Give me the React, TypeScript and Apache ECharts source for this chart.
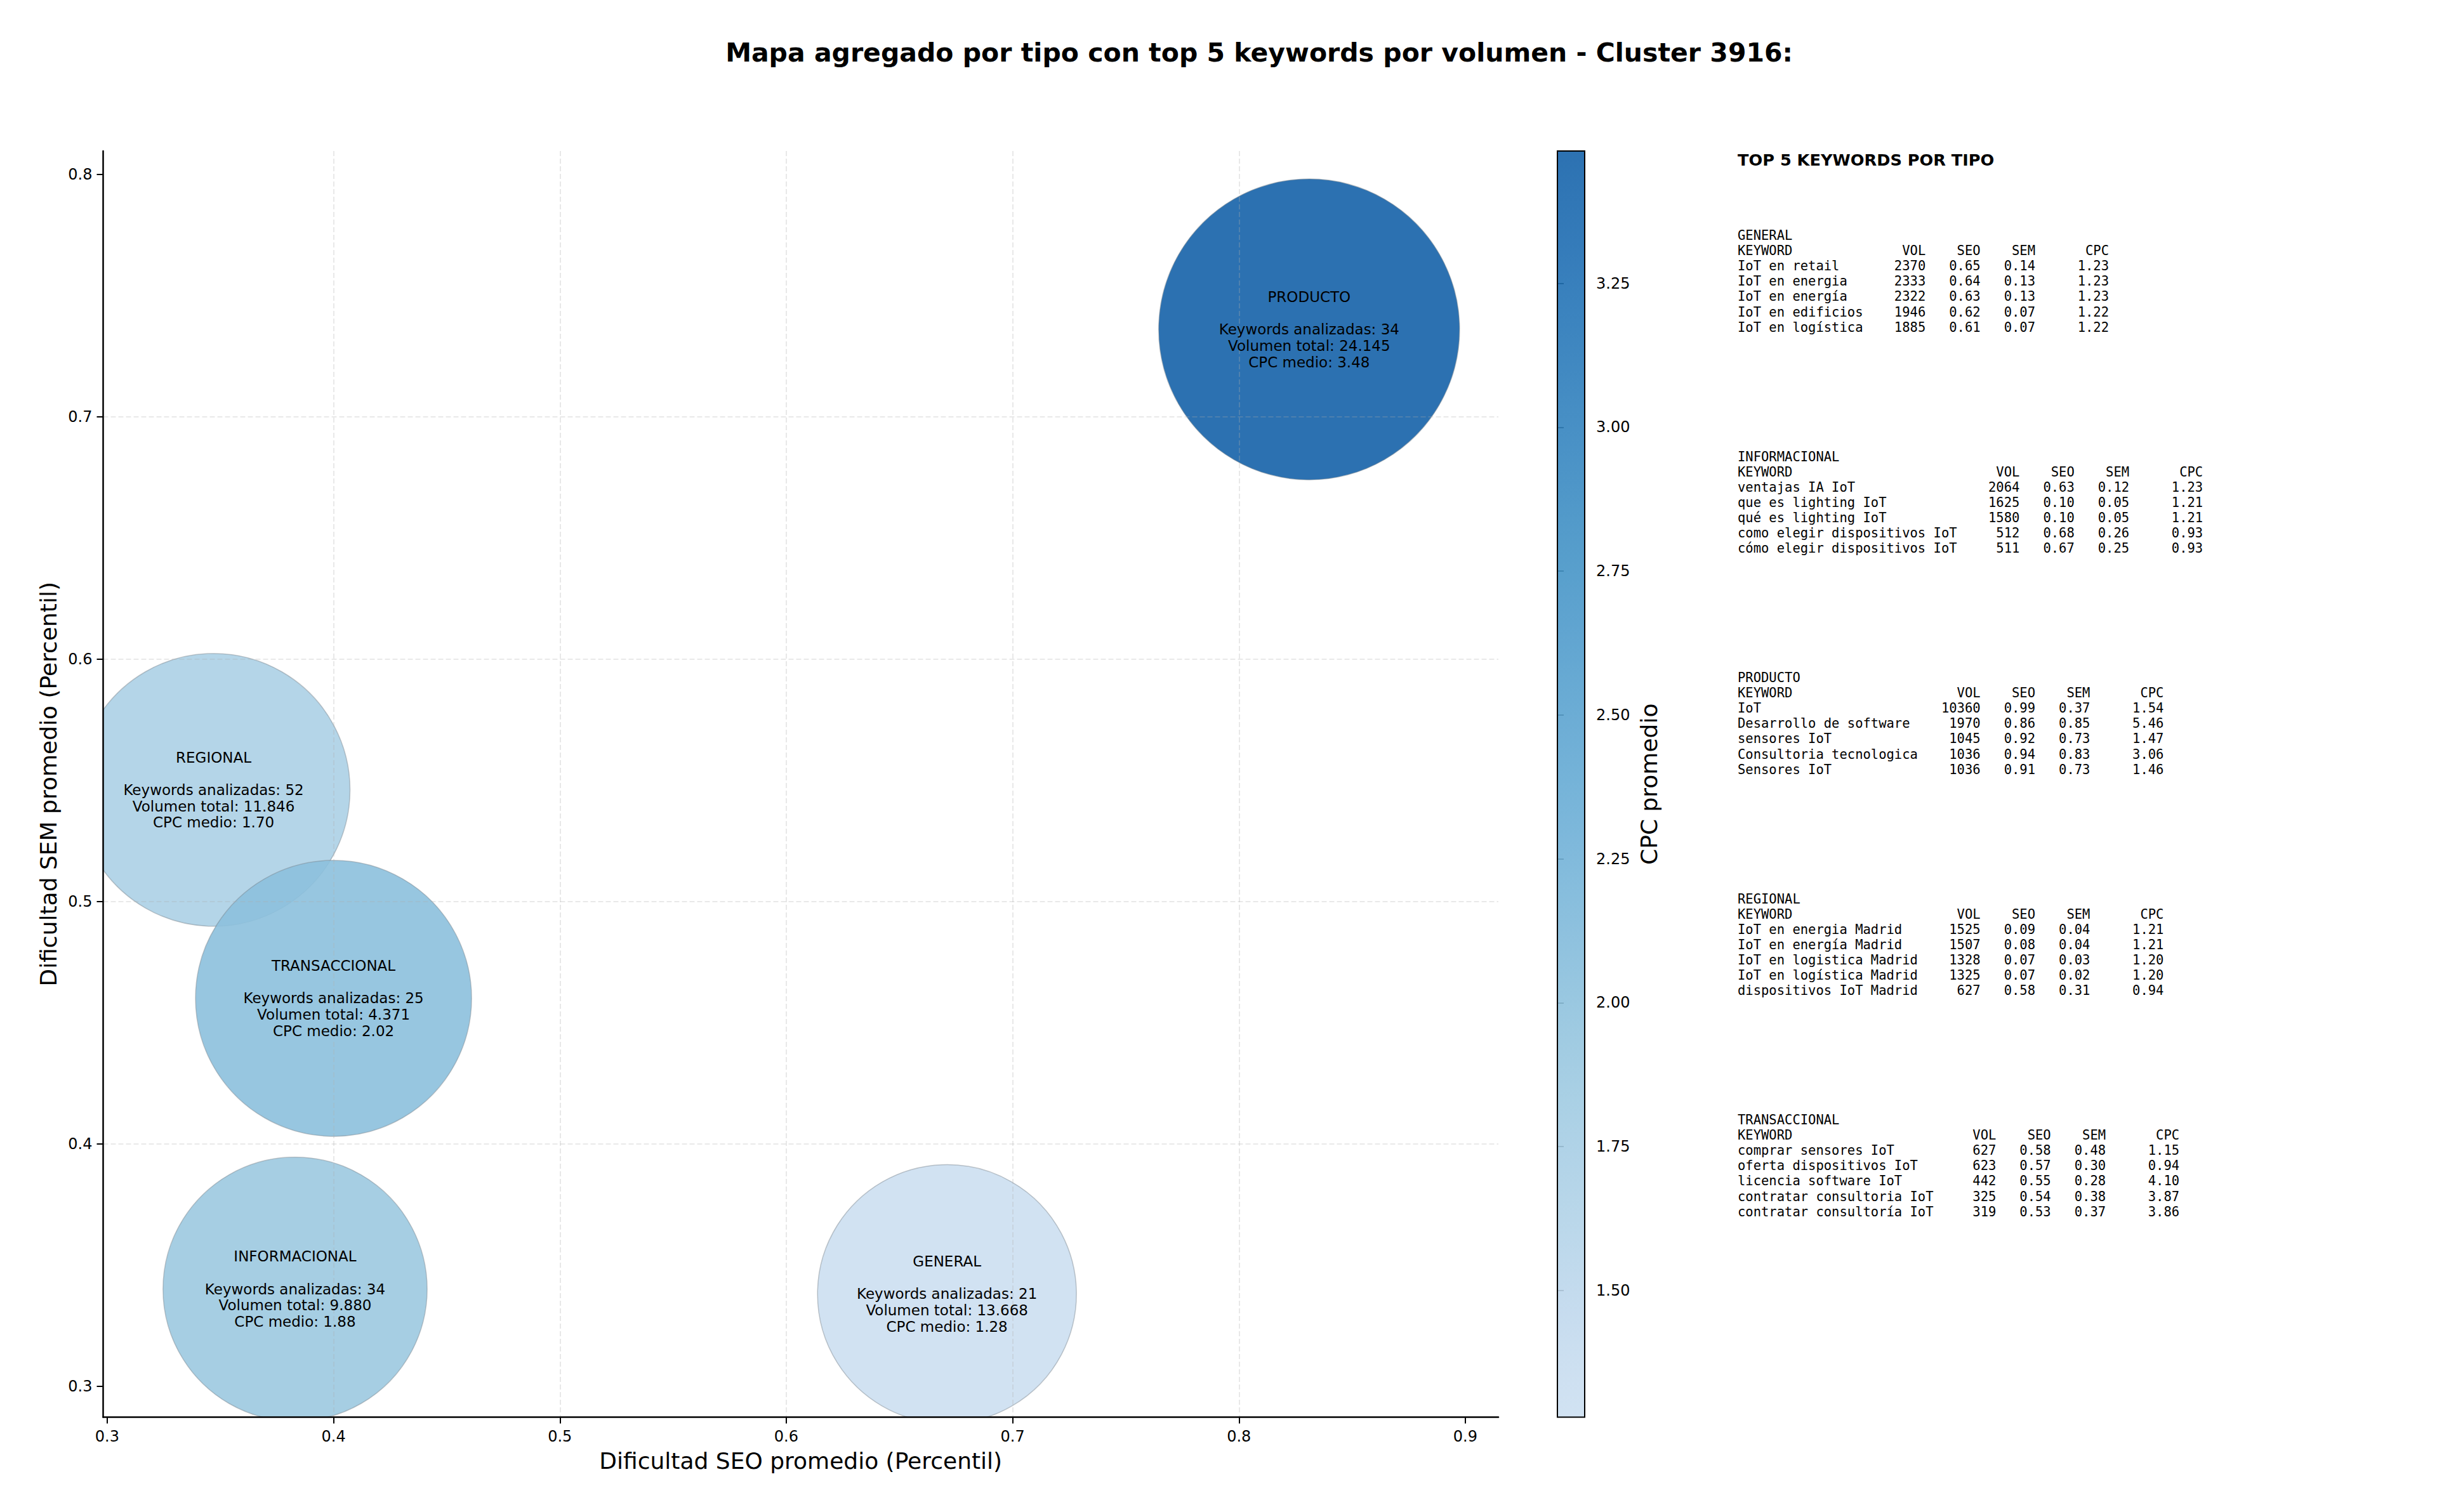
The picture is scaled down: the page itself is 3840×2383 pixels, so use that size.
import React, { useEffect, useRef } from 'react';
import * as echarts from 'echarts';

// ---------- Aggregated data per type ----------
const TYPES = ['GENERAL', 'INFORMACIONAL', 'PRODUCTO', 'REGIONAL', 'TRANSACCIONAL'];
const SEO_AVG = [0.671, 0.383, 0.831, 0.347, 0.4];
const SEM_AVG = [0.338, 0.34, 0.736, 0.546, 0.46];
const KEYWORD_COUNTS = [21, 34, 34, 52, 25];
const TOTAL_VOLUMES = [13668, 9880, 24145, 11846, 4371];
const AVG_CPC = [1.28, 1.88, 3.48, 1.7, 2.02];
const BUBBLE_AREAS = [41600, 43300, 56200, 46200, 47300];

// ---------- Axis ticks ----------
const X_TICKS = [0.3, 0.4, 0.5, 0.6, 0.7, 0.8, 0.9];
const Y_TICKS = [0.3, 0.4, 0.5, 0.6, 0.7, 0.8];
const CPC_TICKS = [1.5, 1.75, 2.0, 2.25, 2.5, 2.75, 3.0, 3.25];

// ---------- Top 5 keywords per type ----------
const GENERAL_KW = ['IoT en retail', 'IoT en energia', 'IoT en energía', 'IoT en edificios', 'IoT en logística'];
const GENERAL_VOL = [2370, 2333, 2322, 1946, 1885];
const GENERAL_SEO = [0.65, 0.64, 0.63, 0.62, 0.61];
const GENERAL_SEM = [0.14, 0.13, 0.13, 0.07, 0.07];
const GENERAL_CPC = [1.23, 1.23, 1.23, 1.22, 1.22];

const INFO_KW = ['ventajas IA IoT', 'que es lighting IoT', 'qué es lighting IoT', 'como elegir dispositivos IoT', 'cómo elegir dispositivos IoT'];
const INFO_VOL = [2064, 1625, 1580, 512, 511];
const INFO_SEO = [0.63, 0.1, 0.1, 0.68, 0.67];
const INFO_SEM = [0.12, 0.05, 0.05, 0.26, 0.25];
const INFO_CPC = [1.23, 1.21, 1.21, 0.93, 0.93];

const PROD_KW = ['IoT', 'Desarrollo de software', 'sensores IoT', 'Consultoria tecnologica', 'Sensores IoT'];
const PROD_VOL = [10360, 1970, 1045, 1036, 1036];
const PROD_SEO = [0.99, 0.86, 0.92, 0.94, 0.91];
const PROD_SEM = [0.37, 0.85, 0.73, 0.83, 0.73];
const PROD_CPC = [1.54, 5.46, 1.47, 3.06, 1.46];

const REG_KW = ['IoT en energia Madrid', 'IoT en energía Madrid', 'IoT en logistica Madrid', 'IoT en logística Madrid', 'dispositivos IoT Madrid'];
const REG_VOL = [1525, 1507, 1328, 1325, 627];
const REG_SEO = [0.09, 0.08, 0.07, 0.07, 0.58];
const REG_SEM = [0.04, 0.04, 0.03, 0.02, 0.31];
const REG_CPC = [1.21, 1.21, 1.2, 1.2, 0.94];

const TRANS_KW = ['comprar sensores IoT', 'oferta dispositivos IoT', 'licencia software IoT', 'contratar consultoria IoT', 'contratar consultoría IoT'];
const TRANS_VOL = [627, 623, 442, 325, 319];
const TRANS_SEO = [0.58, 0.57, 0.55, 0.54, 0.53];
const TRANS_SEM = [0.48, 0.3, 0.28, 0.38, 0.37];
const TRANS_CPC = [1.15, 0.94, 4.1, 3.87, 3.86];

const TABLES = [
  { name: 'GENERAL', kw: GENERAL_KW, vol: GENERAL_VOL, seo: GENERAL_SEO, sem: GENERAL_SEM, cpc: GENERAL_CPC },
  { name: 'INFORMACIONAL', kw: INFO_KW, vol: INFO_VOL, seo: INFO_SEO, sem: INFO_SEM, cpc: INFO_CPC },
  { name: 'PRODUCTO', kw: PROD_KW, vol: PROD_VOL, seo: PROD_SEO, sem: PROD_SEM, cpc: PROD_CPC },
  { name: 'REGIONAL', kw: REG_KW, vol: REG_VOL, seo: REG_SEO, sem: REG_SEM, cpc: REG_CPC },
  { name: 'TRANSACCIONAL', kw: TRANS_KW, vol: TRANS_VOL, seo: TRANS_SEO, sem: TRANS_SEM, cpc: TRANS_CPC },
];

// ---------- Styling helpers ----------
const FONT = 'DejaVu Sans';
const MONO = 'DejaVu Sans Mono';
const BLUES = [
  [247, 251, 255], [222, 235, 247], [198, 219, 239], [158, 202, 225], [107, 174, 214],
  [66, 146, 198], [33, 113, 181], [8, 81, 156], [8, 48, 107],
];
function blues(t: number): number[] {
  const p = Math.max(0, Math.min(1, t)) * 8;
  const i = Math.min(7, Math.floor(p));
  const f = p - i;
  return BLUES[i].map((c, k) => c + (BLUES[i + 1][k] - c) * f);
}
const CPC_MIN = Math.min(...AVG_CPC);
const CPC_MAX = Math.max(...AVG_CPC);
const CMAP_LO = 0.22;
const CMAP_HI = 0.81;
const BUBBLE_ALPHA = 0.9;
function cpcColor(v: number, a = 1): string {
  const t = CMAP_LO + ((v - CPC_MIN) / (CPC_MAX - CPC_MIN)) * (CMAP_HI - CMAP_LO);
  const c = blues(t).map((x) => Math.round(x));
  return `rgba(${c[0]},${c[1]},${c[2]},${a})`;
}
function fmtThousands(v: number): string {
  return String(v).replace(/\B(?=(\d{3})+(?!\d))/g, '.');
}

function buildTableGraphics(): any[] {
  const els: any[] = [];
  const x0 = 2738;
  const fs = 20.5;
  const cw = fs * 0.6021;
  const lineH = 24.1;
  const top0 = 371;
  const gap = 348.5;
  const txt = (text: string, x: number, y: number, align: string) => ({
    type: 'text',
    x,
    y,
    silent: true,
    style: {
      text,
      fontFamily: MONO,
      fontSize: fs,
      fill: '#000',
      align,
      textAlign: align,
      verticalAlign: 'middle',
      textVerticalAlign: 'middle',
    },
  });
  TABLES.forEach((tb, bi) => {
    const y0 = top0 + bi * gap;
    const L = Math.max(...tb.kw.map((k) => k.length));
    const cVol = x0 + cw * (L + 8);
    const cSeo = cVol + cw * 7;
    const cSem = cSeo + cw * 7;
    const cCpc = cSem + cw * 9.4;
    els.push(txt(tb.name, x0, y0, 'left'));
    els.push(txt('KEYWORD', x0, y0 + lineH, 'left'));
    els.push(txt('VOL', cVol, y0 + lineH, 'right'));
    els.push(txt('SEO', cSeo, y0 + lineH, 'right'));
    els.push(txt('SEM', cSem, y0 + lineH, 'right'));
    els.push(txt('CPC', cCpc, y0 + lineH, 'right'));
    tb.kw.forEach((k, i) => {
      const y = y0 + lineH * (i + 2);
      els.push(txt(k, x0, y, 'left'));
      els.push(txt(String(tb.vol[i]), cVol, y, 'right'));
      els.push(txt(tb.seo[i].toFixed(2), cSeo, y, 'right'));
      els.push(txt(tb.sem[i].toFixed(2), cSem, y, 'right'));
      els.push(txt(tb.cpc[i].toFixed(2), cCpc, y, 'right'));
    });
  });
  return els;
}

export default function App() {
  const ref = useRef<HTMLDivElement>(null);
  useEffect(() => {
    document.body.style.margin = '0';
    if (!ref.current) return;
    const chart = echarts.init(ref.current, undefined, { renderer: 'svg' });

    const bubbleData = TYPES.map((t, i) => [SEO_AVG[i], SEM_AVG[i], AVG_CPC[i], BUBBLE_AREAS[i], i]);

    const gradStops: any[] = [];
    const N = 24;
    for (let k = 0; k <= N; k++) {
      const v = CPC_MAX - ((CPC_MAX - CPC_MIN) * k) / N;
      gradStops.push({ offset: k / N, color: cpcColor(v, BUBBLE_ALPHA) });
    }

    const axisLineStyle = { color: '#000', width: 2.5 };
    const tickStyle = { color: '#000', width: 2 };
    const gridLine = { color: 'rgba(176,176,176,0.35)', width: 1.6, type: [8, 4] };

    const option: any = {
      animation: false,
      backgroundColor: '#fff',
      textStyle: { fontFamily: FONT },
      grid: [
        { left: 162.5, top: 238, width: 2198.5, height: 1995.5 },
        { left: 2454, top: 238, width: 43, height: 1995.5 },
      ],
      xAxis: [
        {
          type: 'value',
          gridIndex: 0,
          min: 0.2982,
          max: 0.9146,
          z: 3,
          axisLine: { show: true, onZero: false, lineStyle: axisLineStyle },
          axisTick: { show: true, length: 10, lineStyle: tickStyle, customValues: X_TICKS },
          axisLabel: {
            customValues: X_TICKS,
            formatter: (v: number) => v.toFixed(1),
            fontSize: 24,
            color: '#000',
            margin: 18,
            fontFamily: FONT,
          },
          splitLine: { show: true, showMinLine: false, showMaxLine: false, lineStyle: gridLine },
          name: 'Dificultad SEO promedio (Percentil)',
          nameLocation: 'middle',
          nameGap: 51,
          nameTextStyle: { fontSize: 36, color: '#000', fontFamily: FONT },
        },
        { type: 'value', gridIndex: 1, min: 0, max: 1, show: false },
      ],
      yAxis: [
        {
          type: 'value',
          gridIndex: 0,
          min: 0.2872,
          max: 0.8096,
          z: 3,
          axisLine: { show: true, onZero: false, lineStyle: axisLineStyle },
          axisTick: { show: true, length: 10, lineStyle: tickStyle, customValues: Y_TICKS },
          axisLabel: {
            customValues: Y_TICKS,
            formatter: (v: number) => v.toFixed(1),
            fontSize: 24,
            color: '#000',
            margin: 17,
            fontFamily: FONT,
          },
          splitLine: { show: true, showMinLine: false, showMaxLine: false, lineStyle: gridLine },
          name: 'Dificultad SEM promedio (Percentil)',
          nameLocation: 'middle',
          nameRotate: 90,
          nameGap: 68,
          nameTextStyle: { fontSize: 36, color: '#000', fontFamily: FONT },
        },
        {
          type: 'value',
          gridIndex: 1,
          position: 'right',
          min: CPC_MIN,
          max: CPC_MAX,
          axisLine: { show: false },
          axisTick: { show: true, length: 10, lineStyle: tickStyle, customValues: CPC_TICKS },
          axisLabel: {
            customValues: CPC_TICKS,
            formatter: (v: number) => v.toFixed(2),
            fontSize: 24,
            color: '#000',
            margin: 18,
            fontFamily: FONT,
          },
          splitLine: { show: false },
          name: 'CPC promedio',
          nameLocation: 'middle',
          nameRotate: 90,
          nameGap: 83,
          nameTextStyle: { fontSize: 36, color: '#000', fontFamily: FONT },
        },
      ],
      series: [
        {
          type: 'custom',
          name: 'bubbles',
          xAxisIndex: 0,
          yAxisIndex: 0,
          clip: true,
          z: 1,
          data: bubbleData,
          encode: { x: 0, y: 1 },
          renderItem: (params: any, api: any) => {
            const p = api.coord([api.value(0), api.value(1)]);
            const r = Math.sqrt(api.value(3));
            return {
              type: 'circle',
              shape: { cx: p[0], cy: p[1], r },
              style: {
                fill: cpcColor(api.value(2), BUBBLE_ALPHA),
                stroke: 'rgba(120,130,140,0.45)',
                lineWidth: 1.5,
              },
            };
          },
        },
        {
          type: 'custom',
          name: 'labels',
          xAxisIndex: 0,
          yAxisIndex: 0,
          clip: false,
          z: 6,
          silent: true,
          data: bubbleData,
          encode: { x: 0, y: 1 },
          renderItem: (params: any, api: any) => {
            const i = api.value(4);
            const p = api.coord([api.value(0), api.value(1)]);
            const text =
              `${TYPES[i]}\n\nKeywords analizadas: ${KEYWORD_COUNTS[i]}\n` +
              `Volumen total: ${fmtThousands(TOTAL_VOLUMES[i])}\nCPC medio: ${AVG_CPC[i].toFixed(2)}`;
            return {
              type: 'text',
              x: p[0],
              y: p[1],
              style: {
                text,
                fontFamily: FONT,
                fontSize: 23,
                lineHeight: 25.7,
                fill: '#000',
                align: 'center',
                textAlign: 'center',
                verticalAlign: 'middle',
                textVerticalAlign: 'middle',
              },
            };
          },
        },
        {
          type: 'custom',
          name: 'colorbar',
          xAxisIndex: 1,
          yAxisIndex: 1,
          z: 2,
          silent: true,
          data: [[0, CPC_MAX, 1, CPC_MIN]],
          encode: { x: [0, 2], y: [1, 3] },
          renderItem: (params: any, api: any) => {
            const p0 = api.coord([api.value(0), api.value(1)]);
            const p1 = api.coord([api.value(2), api.value(3)]);
            return {
              type: 'rect',
              shape: { x: p0[0], y: p0[1], width: p1[0] - p0[0], height: p1[1] - p0[1] },
              style: {
                fill: new echarts.graphic.LinearGradient(0, 0, 0, 1, gradStops),
                stroke: '#000',
                lineWidth: 2,
              },
            };
          },
        },
      ],
      graphic: [
        {
          type: 'text',
          x: 1984,
          y: 83,
          silent: true,
          style: {
            text: 'Mapa agregado por tipo con top 5 keywords por volumen - Cluster 3916:',
            fontFamily: FONT,
            fontSize: 41,
            fontWeight: 'bold',
            fill: '#000',
            align: 'center',
            textAlign: 'center',
            verticalAlign: 'middle',
            textVerticalAlign: 'middle',
          },
        },
        {
          type: 'text',
          x: 2738,
          y: 252,
          silent: true,
          style: {
            text: 'TOP 5 KEYWORDS POR TIPO',
            fontFamily: FONT,
            fontSize: 25.6,
            fontWeight: 'bold',
            fill: '#000',
            align: 'left',
            textAlign: 'left',
            verticalAlign: 'middle',
            textVerticalAlign: 'middle',
          },
        },
        ...buildTableGraphics(),
      ],
    };

    chart.setOption(option);
    return () => {
      chart.dispose();
    };
  }, []);

  return (
    <div
      ref={ref}
      style={{ width: 3840, height: 2383, position: 'absolute', left: 0, top: 0, background: '#fff' }}
    />
  );
}
